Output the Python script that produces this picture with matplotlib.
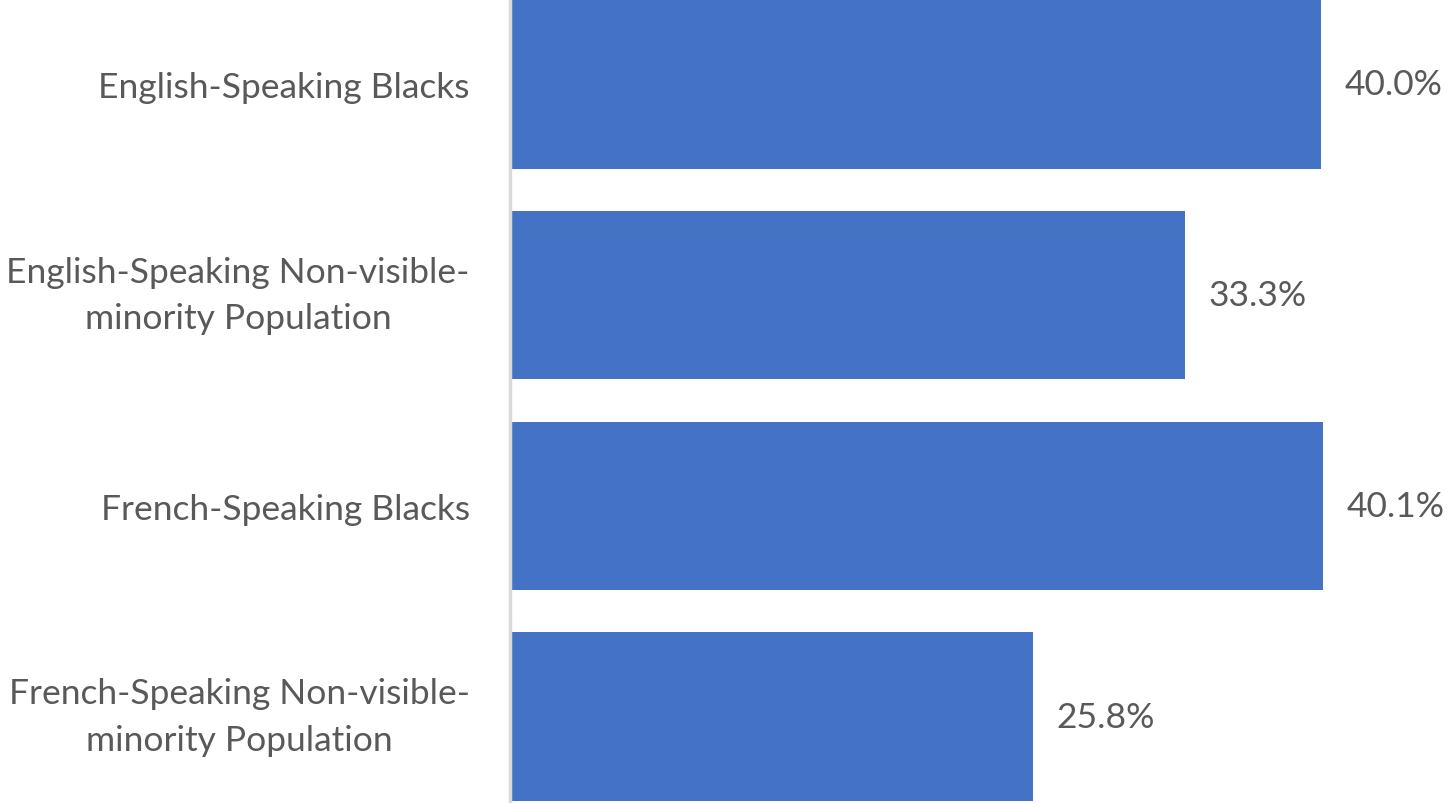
import matplotlib
matplotlib.use("Agg")
import matplotlib.pyplot as plt

categories = [
    "English-Speaking Blacks",
    "English-Speaking Non-visible-\nminority Population",
    "French-Speaking Blacks",
    "French-Speaking Non-visible-\nminority Population",
]
values = [40.0, 33.3, 40.1, 25.8]
value_labels = ["40.0%", "33.3%", "40.1%", "25.8%"]

plt.rcParams['font.family'] = ['Lato', 'DejaVu Sans']

fig = plt.figure(figsize=(14.47, 8.04), dpi=100)
ax = fig.add_axes([510 / 1447, 0, 937 / 1447, 1])

pos = list(range(len(categories)))
bars = ax.barh(pos, values, height=0.8, color="#4472C4")

px_per_unit = 811 / 40.0
ax.set_xlim(0, 937 / px_per_unit)
ax.set_ylim(3 + (804 - 717.5) / 210.7, -85.5 / 210.7)

for b, lab in zip(bars, value_labels):
    ax.annotate(lab, (b.get_width(), b.get_y() + b.get_height() / 2),
                xytext=(17, 0), textcoords="offset points",
                va="center", ha="left", fontsize=25.5, color="#595959")

ax.set_yticks(pos)
ax.set_yticklabels(categories, fontsize=25.5, color="#595959", linespacing=1.55)
for t in ax.get_yticklabels():
    t.set_horizontalalignment("right")
    t.set_multialignment("center")
    if "\n" in t.get_text():
        t.set_verticalalignment("center")
ax.tick_params(axis="y", length=0, pad=29)
ax.set_xticks([])
for s in ["top", "right", "bottom"]:
    ax.spines[s].set_visible(False)
ax.spines["left"].set_color("#D9D9D9")
ax.spines["left"].set_linewidth(2.5)

fig.savefig("out.png", dpi=100)
